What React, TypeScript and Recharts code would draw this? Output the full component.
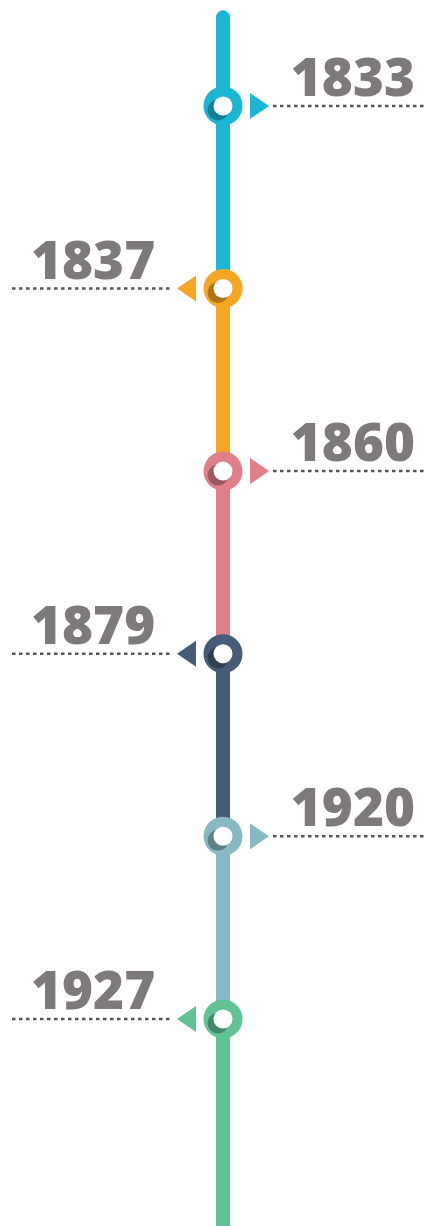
import { ComposedChart, Line, Scatter, XAxis, YAxis } from 'recharts'

// timeline events, top to bottom
const YEARS = ['1833', '1837', '1860', '1879', '1920', '1927']
const COLORS = ['#1bb6d3', '#f6a623', '#e07f88', '#465b78', '#86b8c5', '#5fc396']
const SIDES = ['right', 'left', 'right', 'left', 'right', 'left']

const W = 425
const H = 1226
const Y_DOMAIN: [number, number] = [-0.58, 6.134]
const SPINE_TOP = -0.485

const nodes = YEARS.map((year, i) => ({ x: 0, y: i, year, color: COLORS[i], side: SIDES[i] }))

const segments = YEARS.map((_, i) => [
  { x: 0, y: i === 0 ? SPINE_TOP : i },
  { x: 0, y: i === YEARS.length - 1 ? Y_DOMAIN[1] + 0.1 : i + 1 },
])

function Node(props: any) {
  const { cx, cy, payload } = props
  const c = payload.color
  const right = payload.side === 'right'
  const tri = right
    ? `M${cx + 27},${cy - 13} L${cx + 46},${cy} L${cx + 27},${cy + 13} Z`
    : `M${cx - 27},${cy - 13} L${cx - 46},${cy} L${cx - 27},${cy + 13} Z`
  return (
    <g>
      <circle cx={cx} cy={cy} r={19.5} fill={c} />
      <circle cx={cx - 5} cy={cy + 4} r={10.5} fill="#000" fillOpacity={0.3} />
      <circle cx={cx} cy={cy} r={9.5} fill="#fff" />
      <path d={tri} fill={c} />
      <line
        x1={right ? cx + 50 : cx - 211}
        x2={right ? cx + 202 : cx - 51}
        y1={cy}
        y2={cy}
        stroke="#555"
        strokeWidth={2.5}
        strokeDasharray="3.5 3.5"
      />
      <text
        x={right ? cx + 192 : cx - 192}
        y={cy - 10}
        textAnchor={right ? 'end' : 'start'}
        fontFamily="'Open Sans', sans-serif"
        fontWeight={800}
        fontSize={53}
        fill="#7f7a7a"
      >
        {payload.year}
      </text>
    </g>
  )
}

export default function App() {
  return (
    <div style={{ position: 'absolute', top: 0, left: 0, width: W, height: H, background: '#fff' }}>
      <ComposedChart width={W} height={H} margin={{ top: 0, right: 0, bottom: 0, left: 0 }}>
        <XAxis type="number" dataKey="x" domain={[-223, 202]} allowDataOverflow hide />
        <YAxis type="number" dataKey="y" domain={Y_DOMAIN} reversed allowDataOverflow hide />
        {segments.map((seg, i) => (
          <Line
            key={i}
            data={seg}
            dataKey="y"
            type="linear"
            stroke={COLORS[i]}
            strokeWidth={14}
            strokeLinecap={i === 0 ? 'round' : 'butt'}
            dot={false}
            activeDot={false}
            isAnimationActive={false}
          />
        ))}
        <Scatter data={nodes} dataKey="y" shape={(p: any) => <Node {...p} />} isAnimationActive={false} />
      </ComposedChart>
    </div>
  )
}
